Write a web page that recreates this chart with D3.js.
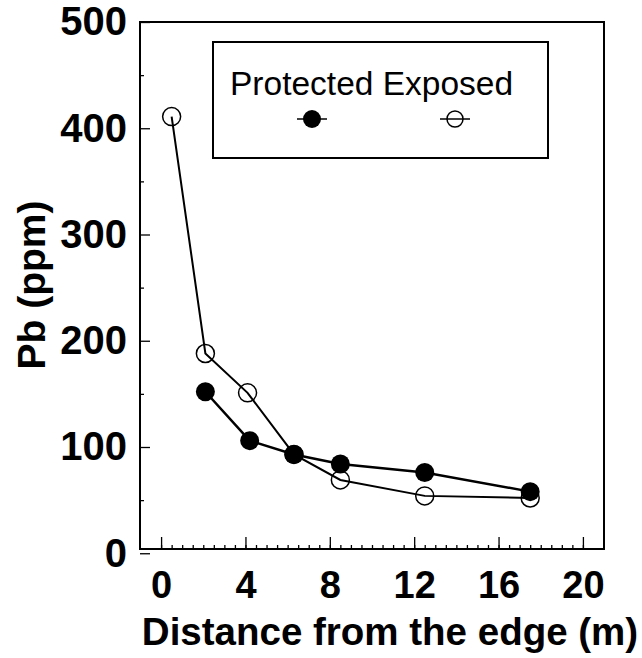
<!DOCTYPE html>
<meta charset="utf-8">
<script src="https://d3js.org/d3.v7.min.js"></script>
<style>
  body { margin: 0; background: #fff; }
  text { font-family: "Liberation Sans", Arial, Helvetica, sans-serif; fill: #000; }
</style>
<div id="viz"></div>
<script>

// values
var distExposed   = [0.5, 2.1, 4.1, 6.3, 8.5, 12.5, 17.5];
var pbExposed     = [411, 188, 151, 93, 69, 54, 52];
var distProtected = [2.1, 4.2, 6.3, 8.5, 12.5, 17.5];
var pbProtected   = [152, 106, 93, 84, 76, 58];
var xTicks = [0, 4, 8, 12, 16, 20];
var yTicks = [0, 100, 200, 300, 400, 500];
var seriesNames = ["Protected", "Exposed"];

var W = 642, H = 658;
// plot box edges (note: "top" is taken by window.top)
var plotL = 140, plotR = 604, plotT = 22, plotB = 549;

var svg = d3.select("#viz")
  .append("svg")
    .attr("width", W)
    .attr("height", H);

var x = d3.scaleLinear()
  .domain([-1, 21])
  .range([plotL, plotR]);

var y = d3.scaleLinear()
  .domain([4, 500])
  .range([plotB, plotT]);

// minor ticks first, then the majors with labels
svg.append("g")
  .attr("transform", "translate(0," + plotB + ")")
  .call(d3.axisBottom(x).tickValues(d3.range(0, 20.01, 0.5)).tickSize(-4).tickFormat(""))
  .call(g => g.select(".domain").remove());

var gx = svg.append("g")
  .attr("transform", "translate(0," + plotB + ")")
  .call(d3.axisBottom(x).tickValues(xTicks).tickSize(-12).tickPadding(22).tickFormat(d3.format("d")));
gx.select(".domain").remove();
gx.selectAll("text")
  .style("font-size", "38px")
  .style("font-weight", "bold");

svg.append("g")
  .attr("transform", "translate(" + plotL + ",0)")
  .call(d3.axisLeft(y).tickValues(d3.range(50, 500, 100)).tickSize(-4).tickFormat(""))
  .call(g => g.select(".domain").remove());

var gy = svg.append("g")
  .attr("transform", "translate(" + plotL + ",0)")
  .call(d3.axisLeft(y).tickValues(yTicks).tickSize(-10).tickPadding(13).tickFormat(d3.format("d")));
gy.select(".domain").remove();
gy.selectAll("text")
  .style("font-size", "40px")
  .style("font-weight", "bold");

svg.selectAll(".tick line")
  .attr("stroke", "#000")
  .attr("stroke-width", 1.3);

// frame
svg.append("rect")
  .attr("x", plotL)
  .attr("y", plotT)
  .attr("width", plotR - plotL)
  .attr("height", plotB - plotT)
  .attr("fill", "none")
  .attr("stroke", "#000")
  .attr("stroke-width", 2);

// axis titles
svg.append("text")
  .attr("x", (plotL + plotR) / 2 + 18)
  .attr("y", 645)
  .attr("text-anchor", "middle")
  .style("font-size", "38.5px")
  .style("font-weight", "bold")
  .text("Distance from the edge (m)");

svg.append("text")
  .attr("transform", "translate(45," + 285 + ") rotate(-90)")
  .attr("text-anchor", "middle")
  .style("font-size", "39px")
  .style("font-weight", "bold")
  .text("Pb (ppm)");

var line = d3.line()
  .x(d => x(d[0]))
  .y(d => y(d[1]));

var exposed = d3.zip(distExposed, pbExposed);
var protectedPts = d3.zip(distProtected, pbProtected);

// exposed: open circles, drawn first so the filled ones sit on top
svg.append("path")
  .datum(exposed)
  .attr("d", line)
  .attr("fill", "none")
  .attr("stroke", "#000")
  .attr("stroke-width", 2);

svg.append("g")
  .selectAll("circle")
  .data(exposed)
  .join("circle")
    .attr("cx", d => x(d[0]))
    .attr("cy", d => y(d[1]))
    .attr("r", 9)
    .attr("fill", "none")
    .attr("stroke", "#000")
    .attr("stroke-width", 1.5);

svg.append("path")
  .datum(protectedPts)
  .attr("d", line)
  .attr("fill", "none")
  .attr("stroke", "#000")
  .attr("stroke-width", 2.5);

svg.append("g")
  .selectAll("circle")
  .data(protectedPts)
  .join("circle")
    .attr("cx", d => x(d[0]))
    .attr("cy", d => y(d[1]))
    .attr("r", 9.5)
    .attr("fill", "#000");

// legend
var lg = svg.append("g");
lg.append("rect")
  .attr("x", 213)
  .attr("y", 42)
  .attr("width", 335)
  .attr("height", 116)
  .attr("fill", "#fff")
  .attr("stroke", "#000")
  .attr("stroke-width", 2);

lg.append("text")
  .attr("x", 230)
  .attr("y", 95)
  .style("font-size", "33.5px")
  .text(seriesNames.join(" "));

var legendX = [312, 455];
lg.selectAll("line")
  .data(legendX)
  .join("line")
    .attr("x1", d => d - 15)
    .attr("x2", d => d + 15)
    .attr("y1", 119)
    .attr("y2", 119)
    .attr("stroke", "#000")
    .attr("stroke-width", 1.5);

lg.selectAll("circle")
  .data(legendX)
  .join("circle")
    .attr("cx", d => d)
    .attr("cy", 119)
    .attr("r", (d, i) => i == 0 ? 9 : 8)
    .attr("fill", (d, i) => i == 0 ? "#000" : "none")
    .attr("stroke", "#000")
    .attr("stroke-width", (d, i) => i == 0 ? 0 : 1.5);

</script>
